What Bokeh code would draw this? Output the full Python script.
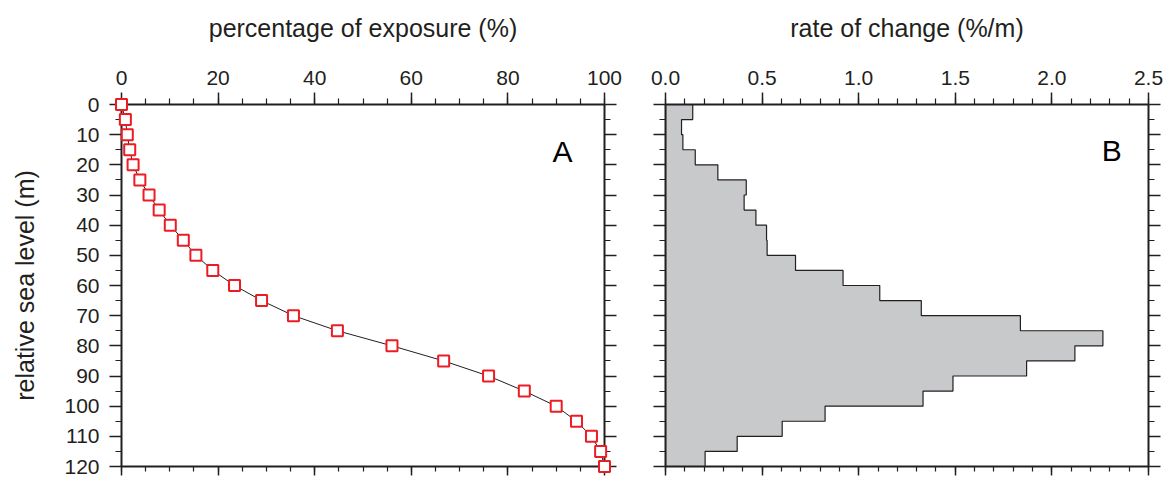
from bokeh.plotting import figure
from bokeh.models import Range1d, LinearAxis, FixedTicker, Label
from bokeh.layouts import row
from bokeh.embed import file_html
from bokeh.resources import INLINE

# ---- data ----
sea_level = [0, 5, 10, 15, 20, 25, 30, 35, 40, 45, 50, 55, 60,
             65, 70, 75, 80, 85, 90, 95, 100, 105, 110, 115, 120]
exposure_pct = [0.0, 0.8, 1.2, 1.7, 2.4, 3.8, 5.7, 7.8, 10.1, 12.8, 15.4, 18.9, 23.4,
                29.0, 35.6, 44.7, 56.0, 66.7, 76.0, 83.4, 90.0, 94.2, 97.3, 99.2, 100.0]

bin_top = [0, 5, 10, 15, 20, 25, 30, 35, 40, 45, 50, 55,
           60, 65, 70, 75, 80, 85, 90, 95, 100, 105, 110, 115]
bin_width = 5
rate_of_change = [0.141, 0.083, 0.090, 0.154, 0.271, 0.418, 0.407, 0.468, 0.523, 0.526, 0.673, 0.919,
                  1.109, 1.324, 1.837, 2.264, 2.119, 1.869, 1.488, 1.333, 0.826, 0.604, 0.371, 0.205]

x_ticks_a = [0, 20, 40, 60, 80, 100]
x_ticks_b = [0.0, 0.5, 1.0, 1.5, 2.0, 2.5]
x_tick_labels_b = ["0.0", "0.5", "1.0", "1.5", "2.0", "2.5"]
y_ticks = [0, 10, 20, 30, 40, 50, 60, 70, 80, 90, 100, 110, 120]

FONT = "Liberation Sans"
INK = "#231f20"
RED = "#ed1c24"
GREY = "#c8c9cb"


def style_axis(ax, show_labels=True, tick_out=12, minor_out=6, standoff=8):
    ax.axis_line_width = 2
    ax.axis_line_color = INK
    ax.major_tick_in = 0
    ax.minor_tick_in = 0
    ax.major_tick_out = tick_out
    ax.minor_tick_out = minor_out
    ax.major_tick_line_width = 1.5
    ax.minor_tick_line_width = 1.2
    ax.major_tick_line_color = INK
    ax.minor_tick_line_color = INK
    ax.major_label_text_font = FONT
    ax.major_label_text_font_size = "21px"
    ax.major_label_text_color = INK
    ax.major_label_standoff = standoff
    ax.axis_label_text_font = FONT
    ax.axis_label_text_font_size = "25px"
    ax.axis_label_text_font_style = "normal"
    ax.axis_label_text_color = INK
    if not show_labels:
        ax.major_label_text_font_size = "1px"
        ax.major_label_text_color = None
        ax.major_label_standoff = 0


def make_fig(x_range, left_border, right_border):
    p = figure(frame_width=483, frame_height=362,
               x_range=x_range, y_range=Range1d(120, 0),
               x_axis_location="above", y_axis_location="left",
               min_border_left=left_border, min_border_right=right_border,
               min_border_top=104, min_border_bottom=11,
               output_backend="svg", toolbar_location=None,
               background_fill_color="white", border_fill_color="white")
    p.outline_line_color = None
    p.xgrid.visible = False
    p.ygrid.visible = False
    return p


# ---------------- Panel A ----------------
pA = make_fig(Range1d(0, 100), 121, 26)
minor_x_a = [v for v in range(0, 101, 5)]
minor_y = [v for v in range(0, 121, 5)]
xt_a = FixedTicker(ticks=x_ticks_a, minor_ticks=minor_x_a)
yt = FixedTicker(ticks=y_ticks, minor_ticks=minor_y)

pA.xaxis.ticker = xt_a
pA.yaxis.ticker = yt
pA.xaxis.axis_label = "percentage of exposure (%)"
pA.yaxis.axis_label = "relative sea level (m)"
for ax in pA.xaxis:
    style_axis(ax, standoff=8)
    ax.axis_label_standoff = 26
for ax in pA.yaxis:
    style_axis(ax, standoff=10)
    ax.axis_label_standoff = 22

bA = LinearAxis(ticker=xt_a)
style_axis(bA, show_labels=False, tick_out=9, minor_out=5)
pA.add_layout(bA, "below")
rA = LinearAxis(ticker=yt)
style_axis(rA, show_labels=False)
pA.add_layout(rA, "right")

pA.line(exposure_pct, sea_level, line_color=INK, line_width=1)
pA.scatter(exposure_pct, sea_level, marker="square", size=11,
           line_color=RED, line_width=2, fill_color="white", level="overlay")
pA.add_layout(Label(x=91.3, y=15.5, text="A", text_font=FONT, text_font_size="30px",
                    text_color="black", text_align="center", text_baseline="middle"))

# ---------------- Panel B ----------------
pB = make_fig(Range1d(0, 2.5), 35, 22)
minor_x_b = [i / 10 for i in range(0, 26)]
xt_b = FixedTicker(ticks=x_ticks_b, minor_ticks=minor_x_b)
pB.xaxis.ticker = xt_b
pB.xaxis.major_label_overrides = {t: lab for t, lab in zip(x_ticks_b, x_tick_labels_b)}
pB.yaxis.ticker = yt
pB.xaxis.axis_label = "rate of change (%/m)"
for ax in pB.xaxis:
    style_axis(ax, standoff=8)
    ax.axis_label_standoff = 26
for ax in pB.yaxis:
    style_axis(ax, show_labels=False)

bB = LinearAxis(ticker=xt_b)
style_axis(bB, show_labels=False, tick_out=9, minor_out=5)
pB.add_layout(bB, "below")
rB = LinearAxis(ticker=yt)
style_axis(rB, show_labels=False)
pB.add_layout(rB, "right")

xs = [0.0]
ys = [sea_level[0]]
for top, r in zip(bin_top, rate_of_change):
    xs += [r, r]
    ys += [top, top + bin_width]
xs.append(0.0)
ys.append(bin_top[-1] + bin_width)
pB.patch(xs, ys, fill_color=GREY, line_color=INK, line_width=1.2)
pB.add_layout(Label(x=2.31, y=15.3, text="B", text_font=FONT, text_font_size="30px",
                    text_color="black", text_align="center", text_baseline="middle"))

layout = row(pA, pB)
open("out.html", "w").write(file_html(layout, INLINE))
